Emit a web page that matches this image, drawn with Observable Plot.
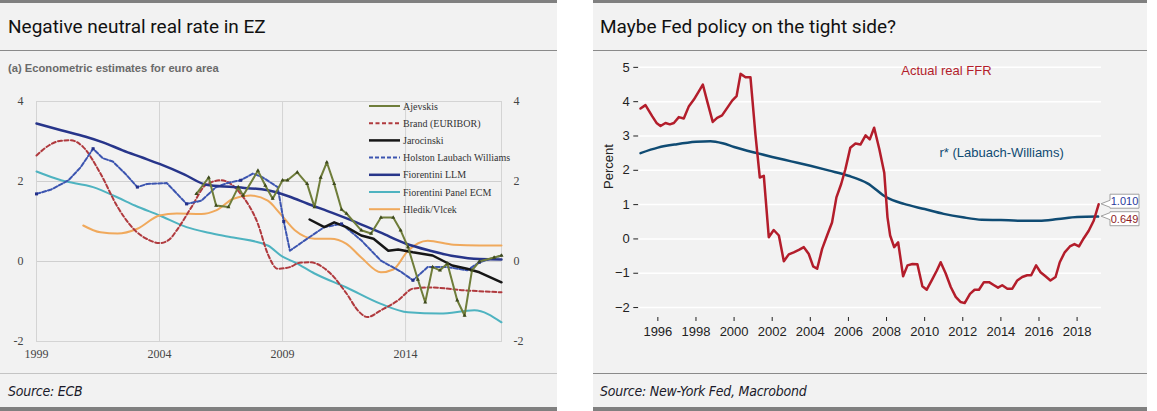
<!DOCTYPE html>
<html><head><meta charset="utf-8">
<script src="https://cdn.jsdelivr.net/npm/d3@7"></script>
<script src="https://cdn.jsdelivr.net/npm/@observablehq/plot@0.6"></script>
<style>
html,body{margin:0;padding:0;background:#fff;}
#root{position:relative;width:1157px;height:411px;overflow:hidden;background:#fff;}
.panel{position:absolute;top:0;height:411px;background:#f2f2f2;}
.bar{position:absolute;left:0;right:0;height:3px;background:#808080;}
.title{position:absolute;left:8px;top:16px;font:19px/22px Roboto,"Noto Sans",sans-serif;color:#111;white-space:nowrap;}
.sep{position:absolute;left:0;right:0;height:1px;}
.source{position:absolute;left:8px;top:383px;font:italic 14px/16px "Liberation Sans Narrow","DejaVu Sans Condensed",sans-serif;color:#1a1a2a;white-space:nowrap;letter-spacing:-0.25px;}
.sub{position:absolute;left:8px;top:62px;font:bold 11.2px/13px Arial,"Liberation Sans",sans-serif;color:#6a6a6a;white-space:nowrap;}
.chart{position:absolute;}
</style></head>
<body>
<div id="root">
  <div class="panel" id="pl" style="left:0;width:557px;">
    <div class="bar" style="top:0"></div>
    <div class="title">Negative neutral real rate in EZ</div>
    <div class="sep" style="top:50px;background:#8a8a8a"></div>
    <div class="sub">(a) Econometric estimates for euro area</div>
    <div class="sep" style="top:373px;background:#c4c4c4"></div>
    <div class="source">Source: ECB</div>
    <div class="bar" style="top:407px;height:4px"></div>
  </div>
  <div class="panel" id="pr" style="left:593px;width:554px;">
    <div class="bar" style="top:0"></div>
    <div class="title" style="left:7px">Maybe Fed policy on the tight side?</div>
    <div class="sep" style="top:50px;background:#8a8a8a"></div>
    <div class="sep" style="top:373px;background:#8a8a8a"></div>
    <div class="source" style="left:7px">Source: New-York Fed, Macrobond</div>
    <div class="bar" style="top:407px;height:4px"></div>
  </div>
</div>
<script>
// ---------- Left chart data (euro area neutral rate estimates) ----------
const leftXTicks = [1999, 2004, 2009, 2014];
const leftYTicks = [-2, 0, 2, 4];
const leftGridX = [2004, 2009, 2014];
const leftGridY = [0, 2];

const ajevskis = [[2005.5,1.69],[2006,2.1],[2006.3,1.4],[2006.8,1.36],[2007.2,1.86],[2007.4,1.65],[2008,2.27],[2008.3,1.9],[2008.6,1.57],[2009,2.03],[2009.2,2.03],[2009.6,2.23],[2010,1.94],[2010.3,1.36],[2010.55,2.1],[2010.8,2.48],[2011.1,1.94],[2011.4,1.3],[2011.6,1.2],[2012.2,0.78],[2012.6,0.7],[2013,1.1],[2013.5,1.1],[2013.8,0.78],[2014.1,0.36],[2014.5,-0.45],[2014.8,-1.02],[2015.1,-0.14],[2015.4,-0.22],[2015.7,-0.05],[2016.1,-0.97],[2016.4,-1.35],[2016.7,-0.22],[2017,0.0],[2017.6,0.1],[2017.9,0.15]];
const brand = [[1999,2.65],[1999.5,2.9],[2000,3.02],[2000.4,3.03],[2000.9,2.86],[2001.6,2.2],[2002.3,1.36],[2003,0.78],[2003.6,0.53],[2004,0.46],[2004.4,0.55],[2004.7,0.78],[2005.3,1.36],[2005.9,1.92],[2006.5,2.03],[2007.3,1.69],[2008,0.94],[2008.4,0.19],[2008.8,-0.18],[2009.3,-0.14],[2009.7,-0.03],[2010.1,-0.02],[2010.95,-0.3],[2011.6,-0.8],[2012.1,-1.25],[2012.45,-1.39],[2013,-1.22],[2013.7,-0.97],[2014.3,-0.68],[2015,-0.65],[2016.4,-0.72],[2017.9,-0.77]];
const jarocinski = [[2010.1,1.05],[2010.7,0.86],[2011.1,0.98],[2011.6,0.86],[2012.2,0.65],[2012.7,0.57],[2013.3,0.27],[2013.7,0.3],[2014.3,0.23],[2015.1,0.15],[2015.9,-0.1],[2016.5,-0.18],[2017,-0.27],[2017.9,-0.52]];
const hlw = [[1999,1.69],[1999.6,1.8],[2000.3,2.03],[2000.8,2.36],[2001.3,2.82],[2001.7,2.58],[2002.1,2.5],[2002.6,2.2],[2003.1,1.86],[2003.5,1.94],[2004.3,1.96],[2004.7,1.7],[2005.1,1.44],[2005.7,1.52],[2006.3,1.86],[2006.8,1.97],[2007.3,2.03],[2007.8,2.2],[2008.2,2.1],[2008.8,1.86],[2009.05,1.0],[2009.3,0.27],[2010,0.57],[2010.7,0.86],[2011.4,0.94],[2012.2,0.53],[2013,0.02],[2013.8,-0.25],[2014.3,-0.47],[2014.9,-0.14],[2015.7,-0.14],[2016.5,-0.22],[2017,-0.02],[2017.9,0.15]];
const fiorentiniLLM = [[1999,3.45],[2000,3.28],[2001,3.12],[2001.7,2.98],[2002.5,2.78],[2003.3,2.6],[2004,2.44],[2005,2.18],[2005.9,1.92],[2007,1.86],[2008.4,1.78],[2009.3,1.62],[2010,1.45],[2011,1.22],[2012,0.98],[2013,0.72],[2014,0.45],[2015,0.27],[2016,0.13],[2017,0.06],[2017.9,0.05]];
const fiorentiniPanel = [[1999,2.25],[2000,2.03],[2001.3,1.86],[2002.3,1.6],[2003,1.4],[2004,1.15],[2005.1,0.86],[2006,0.72],[2007,0.6],[2008.4,0.4],[2009,0.12],[2009.5,-0.02],[2010.3,-0.3],[2011.6,-0.65],[2013,-1.06],[2014.1,-1.27],[2015.4,-1.3],[2016.8,-1.22],[2017.9,-1.52]];
const hledik = [[2000.9,0.9],[2001.6,0.73],[2002.3,0.7],[2003.1,0.82],[2004,1.15],[2004.7,1.2],[2005.7,1.19],[2006.3,1.28],[2007,1.57],[2007.7,1.65],[2008.4,1.52],[2008.9,1.2],[2009.5,0.78],[2010.3,0.57],[2010.95,0.57],[2011.6,0.44],[2012.2,0.1],[2013,-0.27],[2013.5,-0.2],[2014.1,0.27],[2014.9,0.52],[2015.95,0.42],[2017,0.4],[2017.9,0.4]];

const leftNames = ["Ajevskis","Brand (EURIBOR)","Jarocinski","Holston Laubach Williams","Fiorentini LLM","Fiorentini Panel ECM","Hledik/Vlcek"];
const leftData = [ajevskis, brand, jarocinski, hlw, fiorentiniLLM, fiorentiniPanel, hledik];

// ---------- Right chart data (US real FFR vs r*) ----------
const rightXTicks = [1996,1998,2000,2002,2004,2006,2008,2010,2012,2014,2016,2018];
const rightYTicks = [-2,-1,0,1,2,3,4,5];
const realFFR = [[1995.09,3.80],[1995.35,3.90],[1995.7,3.58],[1995.93,3.38],[1996.14,3.29],[1996.4,3.38],[1996.63,3.34],[1996.84,3.38],[1997.1,3.55],[1997.36,3.51],[1997.63,3.87],[1997.89,4.06],[1998.15,4.30],[1998.36,4.50],[1998.59,4.01],[1998.88,3.41],[1999.11,3.53],[1999.37,3.60],[1999.64,3.82],[1999.9,4.03],[2000.13,4.16],[2000.34,4.81],[2000.6,4.71],[2000.86,4.71],[2001.12,3.05],[2001.35,1.79],[2001.56,1.84],[2001.82,0.05],[2002.08,0.26],[2002.35,0.10],[2002.61,-0.65],[2002.87,-0.45],[2003.13,-0.39],[2003.4,-0.32],[2003.66,-0.24],[2003.92,-0.44],[2004.15,-0.80],[2004.36,-0.87],[2004.62,-0.29],[2004.88,0.10],[2005.14,0.48],[2005.37,1.21],[2005.62,1.60],[2005.84,2.03],[2006.1,2.66],[2006.37,2.78],[2006.63,2.75],[2006.9,3.02],[2007.12,2.90],[2007.35,3.24],[2007.62,2.62],[2007.88,1.93],[2008.05,0.63],[2008.19,0.10],[2008.4,-0.24],[2008.61,-0.10],[2008.87,-1.09],[2009.1,-0.77],[2009.36,-0.73],[2009.62,-0.74],[2009.88,-1.38],[2010.11,-1.48],[2010.37,-1.21],[2010.64,-0.92],[2010.84,-0.68],[2011.1,-1.0],[2011.37,-1.40],[2011.63,-1.69],[2011.89,-1.84],[2012.1,-1.87],[2012.38,-1.60],[2012.62,-1.48],[2012.85,-1.48],[2013.11,-1.26],[2013.38,-1.26],[2013.64,-1.35],[2013.85,-1.42],[2014.07,-1.35],[2014.34,-1.45],[2014.6,-1.45],[2014.86,-1.21],[2015.12,-1.11],[2015.38,-1.06],[2015.59,-1.06],[2015.85,-0.77],[2016.08,-0.97],[2016.34,-1.09],[2016.6,-1.21],[2016.87,-1.11],[2017.09,-0.68],[2017.35,-0.39],[2017.62,-0.22],[2017.86,-0.15],[2018.1,-0.22],[2018.35,0.02],[2018.61,0.24],[2018.87,0.53],[2019.13,1.01]];
const rStar = [[1995.09,2.50],[1996,2.66],[1997,2.76],[1998,2.83],[1998.76,2.85],[1999.4,2.79],[2000,2.68],[2001.2,2.50],[2002,2.39],[2003,2.26],[2004,2.13],[2005,1.99],[2006,1.84],[2007,1.62],[2008,1.21],[2008.92,1.02],[2010,0.87],[2011,0.73],[2012,0.63],[2013,0.56],[2014,0.55],[2015,0.53],[2016,0.53],[2017,0.58],[2018,0.64],[2019.1,0.65]];
const rightLabels = [
  {text: "Actual real FFR", x: 2008.77, y: 4.89, series: "ffr"},
  {text: "r* (Labuach-Williams)", x: 2010.78, y: 2.52, series: "rstar"}
];
const endTags = [
  {label: "1.010", value: 1.010, series: "blue"},
  {label: "0.649", value: 0.649, series: "red"}
];

// ---------- styles ----------
const leftStyle = {
  "Ajevskis": {stroke:"#6f7d3a", w:2, dash:null, curve:"linear"},
  "Brand (EURIBOR)": {stroke:"#b03a3e", w:2, dash:"4,2.5", curve:"monotone-x"},
  "Jarocinski": {stroke:"#161616", w:2.5, dash:null, curve:"linear"},
  "Holston Laubach Williams": {stroke:"#3c55b0", w:2, dash:"4,2", curve:"linear"},
  "Fiorentini LLM": {stroke:"#27358a", w:2.5, dash:null, curve:"monotone-x"},
  "Fiorentini Panel ECM": {stroke:"#4eb3c0", w:2, dash:null, curve:"monotone-x"},
  "Hledik/Vlcek": {stroke:"#f0a95c", w:2, dash:null, curve:"monotone-x"}
};
const drawOrder = ["Fiorentini Panel ECM","Hledik/Vlcek","Brand (EURIBOR)","Holston Laubach Williams","Fiorentini LLM","Jarocinski","Ajevskis"];
const serif = '"Liberation Serif","DejaVu Serif",serif';

const X = d => d[0], Y = d => d[1];

const leftPlot = Plot.plot({
  width: 557, height: 290, marginTop: 21, marginBottom: 29, marginLeft: 36, marginRight: 56,
  x: {domain: [1999, 2017.9], axis: null},
  y: {domain: [-2, 4], axis: null},
  style: {background: "transparent", fontFamily: serif, fontSize: "12px", color: "#444", overflow: "visible"},
  marks: [
    Plot.ruleX(leftGridX, {stroke: "#d4d4d4"}),
    Plot.ruleY(leftGridY, {stroke: "#cfcfcf"}),
    Plot.frame({stroke: "#d4d4d4"}),
    ...drawOrder.map(name => {
      const s = leftStyle[name];
      return Plot.line(leftData[leftNames.indexOf(name)], {x: X, y: Y, stroke: s.stroke, strokeWidth: s.w, strokeDasharray: s.dash, curve: s.curve});
    }),
    Plot.dot(hlw.filter((d, i) => i % 4 === 0), {x: X, y: Y, symbol: "square", r: 1.7, fill: "#23308a"}),
    Plot.dot(ajevskis, {x: X, y: Y, symbol: "triangle", r: 1.5, fill: "#3e4a1e"}),
    Plot.text(leftYTicks, {y: d => d, frameAnchor: "left", dx: -13, textAnchor: "end", text: d => String(d)}),
    Plot.text(leftYTicks, {y: d => d, frameAnchor: "right", dx: 12, textAnchor: "start", text: d => String(d)}),
    Plot.text(leftXTicks, {x: d => d, frameAnchor: "bottom", dy: 16, text: d => String(d)})
  ]
});
leftPlot.classList.add("chart");
leftPlot.style.left = "0px"; leftPlot.style.top = "80px";
document.getElementById("pl").appendChild(leftPlot);

// legend (inside plot area, top-right)
const leg = d3.create("svg").attr("width", 160).attr("height", 130)
  .style("position", "absolute").style("left", "365px").style("top", "98px").style("overflow", "visible");
leftNames.forEach((name, i) => {
  const s = leftStyle[name];
  const yy = 8 + i * 17.2;
  leg.append("line").attr("x1", 4).attr("x2", 35).attr("y1", yy).attr("y2", yy)
    .attr("stroke", s.stroke).attr("stroke-width", s.w).attr("stroke-dasharray", s.dash);
  leg.append("text").attr("x", 38).attr("y", yy + 3.5).text(name)
    .attr("font-family", serif).attr("font-size", "10px").attr("fill", "#333");
});
document.getElementById("pl").appendChild(leg.node());

// ---------- right chart ----------
const red = "#b31d2b", blue = "#0f4b73";
const tagColor = {blue: "#2b3a9c", red: "#8e1c24"};

function tagMark(index, scales, values, dims) {
  const y = scales.y;
  const tipX = dims.width - dims.marginRight;
  const g = d3.create("svg:g");
  const tags = endTags.map(t => ({...t, tip: y(t.value), cy: y(t.value)})).sort((a, b) => a.tip - b.tip);
  const h = 14, gap = 3.5, w = 29;
  for (let k = 1; k < tags.length; k++) {
    const need = h + gap - (tags[k].cy - tags[k - 1].cy);
    if (need > 0) { tags[k - 1].cy -= need / 2; tags[k].cy += need / 2; }
  }
  tags.forEach(t => {
    const bx = tipX + 9, top = t.cy - h / 2, bot = t.cy + h / 2;
    const base = Math.max(top + 4, Math.min(bot - 4, t.tip));
    g.append("path")
      .attr("d", `M${bx},${top}H${bx + w}V${bot}H${bx}V${base + 3.5}L${tipX},${t.tip}L${bx},${base - 3.5}Z`)
      .attr("fill", "#fff").attr("stroke", "#a0a0a0").attr("stroke-width", 1);
    g.append("text").attr("x", bx + w / 2).attr("y", t.cy).attr("dy", "0.36em")
      .attr("text-anchor", "middle").attr("font-size", "11px").attr("font-family", "Arial,'Liberation Sans',sans-serif")
      .attr("fill", tagColor[t.series]).text(t.label);
  });
  return g.node();
}

const rightPlot = Plot.plot({
  width: 554, height: 295, marginTop: 5, marginBottom: 33, marginLeft: 45.3, marginRight: 46,
  x: {domain: [1995, 2019.28], ticks: rightXTicks, tickFormat: d => String(d), tickSize: 4, tickPadding: 5, label: null},
  y: {domain: [-2.29, 5.2], ticks: rightYTicks, tickSize: 5, tickPadding: 4, label: null},
  style: {background: "transparent", fontFamily: "Arial,'Liberation Sans',sans-serif", fontSize: "13px", color: "#222", overflow: "visible"},
  marks: [
    Plot.ruleY(rightYTicks, {stroke: "#ffffff", strokeWidth: 1.5}),
    Plot.line(rStar, {x: X, y: Y, stroke: blue, strokeWidth: 2.5, curve: "monotone-x"}),
    Plot.line(realFFR, {x: X, y: Y, stroke: red, strokeWidth: 2.5}),
    Plot.text(rightLabels, {x: "x", y: "y", text: "text", textAnchor: "start", fill: d => d.series === "ffr" ? red : blue, fontSize: 13}),
    Plot.text(["Percent"], {frameAnchor: "left", text: d => d, rotate: -90, dx: -30, fill: "#222"}),
    tagMark
  ]
});
rightPlot.classList.add("chart");
rightPlot.style.left = "0px"; rightPlot.style.top = "55px";
document.getElementById("pr").appendChild(rightPlot);
</script>
</body></html>
